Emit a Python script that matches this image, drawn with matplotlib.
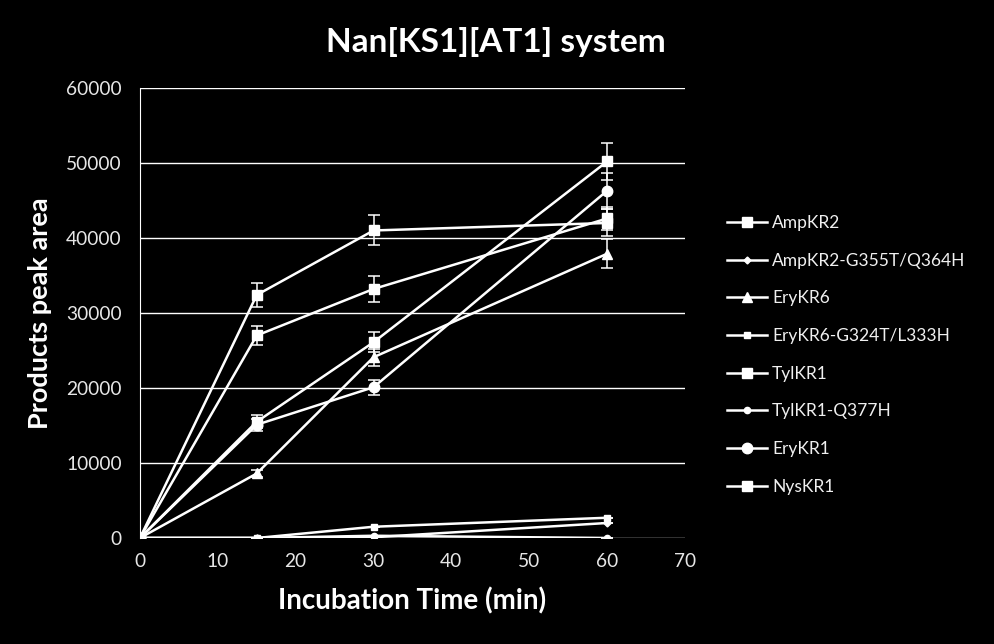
import matplotlib
matplotlib.use("Agg")
import matplotlib.pyplot as plt
from matplotlib.lines import Line2D

plt.rcParams['font.family'] = ['Lato', 'DejaVu Sans']

time_min = [0, 15, 30, 60]
series_names = ["AmpKR2", "AmpKR2-G355T/Q364H", "EryKR6", "EryKR6-G324T/L333H",
                "TylKR1", "TylKR1-Q377H", "EryKR1", "NysKR1"]
ampkr2 = [0, 32400, 41000, 42000]
ampkr2_err = [0, 1600, 2000, 1800]
ampkr2_mut = [0, 0, 100, 2000]
ampkr2_mut_err = [0, 0, 0, 0]
erykr6 = [0, 8600, 24100, 37900]
erykr6_err = [0, 450, 1150, 1900]
erykr6_mut = [0, 0, 1500, 2700]
erykr6_mut_err = [0, 0, 0, 0]
tylkr1 = [0, 27000, 33200, 42600]
tylkr1_err = [0, 1300, 1700, 1500]
tylkr1_mut = [0, 0, 300, 0]
tylkr1_mut_err = [0, 0, 0, 0]
erykr1 = [0, 15100, 20100, 46300]
erykr1_err = [0, 800, 1000, 2400]
nyskr1 = [0, 15500, 26100, 50200]
nyskr1_err = [0, 900, 1300, 2500]

values = [ampkr2, ampkr2_mut, erykr6, erykr6_mut, tylkr1, tylkr1_mut, erykr1, nyskr1]
errors = [ampkr2_err, ampkr2_mut_err, erykr6_err, erykr6_mut_err, tylkr1_err,
          tylkr1_mut_err, erykr1_err, nyskr1_err]
markers = ['s', 'D', '^', 's', 's', 'o', 'o', 's']
msizes = [7.5, 3.5, 6.5, 5, 7.5, 4.5, 7.5, 7.5]

fig = plt.figure(figsize=(9.94, 6.44), dpi=100, facecolor='black')
ax = fig.add_axes([0.1408, 0.1646, 0.5483, 0.6988])
ax.set_facecolor('black')

fg = 'white'
for v, e, m, s in zip(values, errors, markers, msizes):
    ax.errorbar(time_min, v, yerr=e, color=fg, marker=m, markersize=s,
                linewidth=1.8, elinewidth=1.1, capsize=4.5, capthick=1.1,
                markeredgecolor=fg, markerfacecolor=fg, zorder=3)

ax.set_xlim(0, 70)
ax.set_ylim(0, 60000)
ax.set_xticks(range(0, 71, 10))
ax.set_yticks(range(0, 60001, 10000))
ax.yaxis.grid(True, color=fg, linewidth=1.0)
ax.set_axisbelow(True)
for sp in ['top', 'right', 'bottom']:
    ax.spines[sp].set_visible(False)
ax.spines['left'].set_color(fg)
ax.spines['left'].set_linewidth(0.8)
ax.tick_params(axis='both', length=0, colors='#e6e6e6', labelsize=13.8)
ax.tick_params(axis='x', pad=11)
ax.tick_params(axis='y', pad=13)

ax.set_xlabel("Incubation Time (min)", color=fg, fontsize=20, fontweight='bold', labelpad=12)
ax.set_ylabel("Products peak area", color=fg, fontsize=19.5, fontweight='bold', labelpad=10)
fig.text(0.499, 0.935, "Nan[KS1][AT1] system", color=fg, fontsize=24, fontweight='bold',
         ha='center', va='center')

handles = [Line2D([0], [0], color=fg, marker=m, markersize=s, linewidth=1.8,
                  markerfacecolor=fg, markeredgecolor=fg)
           for m, s in zip(markers, msizes)]
leg = fig.legend(handles, series_names, loc='center left', bbox_to_anchor=(0.7156, 0.449),
                 frameon=False, fontsize=12.5, labelspacing=1.25, handlelength=2.3,
                 handletextpad=0.3, labelcolor='#f0f0f0')

fig.savefig("out.png", dpi=100, facecolor='black')
